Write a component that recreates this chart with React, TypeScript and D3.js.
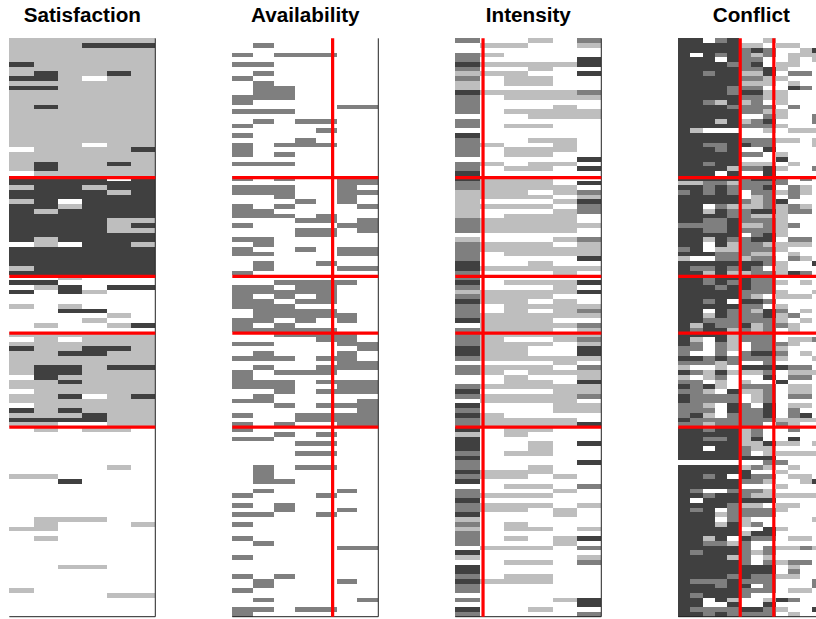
import React from "react";
import * as d3 from "d3";

const titles = ["Satisfaction", "Availability", "Intensity", "Conflict"];

// cell levels: 0 white, 1 light, 2 gray, 3 dark
const levelColors = ["#ffffff", "#bebebe", "#7f7f7f", "#404040"];

const satisfaction = [
"111111","111333","111111","111111","111111","311111","111111","131131","331011","111111",
"331111","111111","111111","111111","131111","111111","111111","111111","111111","111111",
"111111","111111","111011","011113","111111","111111","131131","131111","011111","333303",
"333333","133133","333313","333333","130333","331333","313333","333333","333311","333313",
"333311","333333","313333","010331","333333","333333","333333","333333","133333","333333",
"001000","330000","013033","303100","000000","000000","101000","003300","000010","000100",
"010013","000000","111111","010111","111111","311331","113311","111111","111111","133133",
"133111","031111","113111","111111","011111","113013","111111","011111","313111","111311",
"333311","110011","010110","000000","000000","000000","000000","000000","000000","000000",
"000010","000000","110000","003000","000000","000000","000000","000000","000000","000000",
"000000","011100","010001","110000","000000","010000","000000","000000","000000","000000",
"000000","001100","000000","000000","000000","000000","100000","000011","000000","000000",
"000000","000000",
];

const availability = [
"0000000","0200000","0000000","2022200","0000000","2200000","0000000","0200000","2000000","0200000",
"0220000","0220000","2220000","2000000","0000022","2220000","0000000","0202200","2000000","0000200",
"2000000","0002000","2022200","2000000","2020000","0000000","2220000","0000000","0000000","2020022",
"0000022","2220020","2220022","0020020","0002020","2020002","2200000","2220200","0002202","2000022",
"0002202","0002200","2200000","0200000","2002022","2200022","0000000","0200200","0200022","2000000",
"0000000","0022220","2202200","2222200","2020200","2202200","2220000","0222200","0222220","2202020",
"2020000","2222200","0022220","0000220","2200022","0000002","0200020","2220220","0000022","0200222",
"2022200","2000000","2220222","2220022","0020222","0200000","2200002","0020222","0000002","2002222",
"0002222","2020022","2000000","0020200","2200000","0002200","0000000","0002200","0000000","0000000",
"0202200","0200000","0200000","0220000","0000000","0200020","2000200","0000000","2020000","0020020",
"2200200","0000000","2000000","0000000","0000000","2000000","0200000","0000022","0000000","2000000",
"0000000","0000000","0000000","2020000","0200020","0200000","2000000","0000000","0200002","0000000",
"2202200","2000000",
];

const intensity = [
"200102","011001","000000","210000","200003","311113","200100","111003","201100","101100",
"100000","311112","201111","200000","200010","201111","000111","200000","201100","000000",
"300000","200110","210010","201110","201100","000003","210110","201103","300000","311100",
"211103","211110","111012","111101","100013","111102","100012","101110","211110","211111",
"211110","000000","100012","211101","211111","201111","200003","300100","311111","200010",
"200000","301113","200010","111113","211100","311010","201111","201012","211111","311100",
"011112","211101","211111","210012","211101","311003","311003","211111","000010","211102",
"210111","001001","001103","211111","300011","211112","011110","300011","200011","310000",
"211110","211113","301100","101000","300000","300103","300100","201100","300000","200003",
"200100","311100","211010","300000","001102","200010","211100","300000","211101","211010",
"300010","100000","201000","101101","200000","201013","200010","011102","300000","100001",
"001102","300000","300000","201100","311100","200000","200000","000000","200013","000003",
"300100","200002",
];

const conflict = [
"330230010000","333331101100","333332320013","303232120111","333032200101","333322301100","333332231000","332331130220","333332211000","333331110100",
"333322200320","333323311000","333332211000","332131201000","333322220200","333332211000","333330021002","333131230002","333332221000","310000010111",
"333330000000","333332221101","332233220001","333230030000","333332201000","333330003000","332331110100","333312231002","333030030000","333332332020",
"112212222000","332322230210","232320221210","333330120200","333332123000","330211121210","331322331220","333322111000","332232221000","222231121200",
"332232221000","333330231000","331322330220","330312211110","230112221000","333222110100","100221220210","333333321003","322323201000","331311221320",
"332333220000","332323221010","333233220000","333332221001","333332101110","332303320000","333332201000","330322132010","331322231200","332222221010",
"313223122100","323312120100","333312220000","310312220112","320210222100","220210221000","200202332010","332322221001","222120020000","100103333220",
"321311120111","101200030220","220101003000","323102220110","221031120110","322220120220","322220120000","221032030110","222032230200","231022230230",
"322222221111","221222202100","332331200200","333331200000","332231300300","333331131101","330332110000","333332011111","333333330000","000000022000",
"333331210100","333333001000","332303220110","333332210013","333330001000","320022210000","332332111111","303333330000","333321101100","323022221000",
"333122220000","333021000001","333131200000","333330031000","333331330000","331303220110","332212000000","333332021121","323332120000","333312010000",
"333332021220","333333330100","333333330200","333323221100","322232220002","333233020002","333332220110","323332000000","330310013200","330030030000",
"322223321003","332322220100",
];

const matrices = [satisfaction, availability, intensity, conflict];

// block boundaries, in row units (all panels) and column units (per panel)
const rowBreaks = [29.4, 50.2, 62.2, 82];
const satisfactionColBreaks: number[] = [];
const availabilityColBreaks = [4.81];
const intensityColBreaks = [1.14];
const conflictColBreaks = [5.09, 7.85];
const colBreaks = [satisfactionColBreaks, availabilityColBreaks, intensityColBreaks, conflictColBreaks];

const W = 816;
const H = 619;
const panelTop = 38.3;
const panelBottom = 616.7;
const panelWidth = 146;
const panelX = d3.scaleLinear().domain([0, 1]).range([9.3, 232.3]);

function Panel({ index }: { index: number }) {
  const rows = matrices[index];
  const nRows = rows.length;
  const nCols = rows[0].length;
  const x0 = panelX(index);
  const x = d3.scaleLinear().domain([0, nCols]).range([x0, x0 + panelWidth]);
  const y = d3.scaleLinear().domain([0, nRows]).range([panelTop, panelBottom]);
  const cells: React.ReactNode[] = [];
  rows.forEach((row, r) => {
    Array.from(row).forEach((ch, c) => {
      const level = +ch;
      if (level === 0) return;
      cells.push(
        <rect
          key={`${r}-${c}`}
          x={x(c)}
          y={y(r)}
          width={x(c + 1) - x(c)}
          height={y(r + 1) - y(r)}
          fill={levelColors[level]}
          shapeRendering="crispEdges"
        />
      );
    });
  });
  return (
    <g>
      <text
        x={x0 + panelWidth / 2}
        y={21.5}
        textAnchor="middle"
        fontFamily="'Liberation Sans', Arial, sans-serif"
        fontWeight="bold"
        fontSize={20.7}
        fill="#000"
      >
        {titles[index]}
      </text>
      {cells}
      <path
        d={`M${x(nCols)},${panelTop}V${panelBottom}H${x0}`}
        fill="none"
        stroke="#222"
        strokeWidth={1}
      />
      {rowBreaks.map((b) => (
        <line key={`h${b}`} x1={x0} x2={x(nCols)} y1={y(b)} y2={y(b)} stroke="#ff0000" strokeWidth={3.2} />
      ))}
      {colBreaks[index].map((b) => (
        <line key={`v${b}`} x1={x(b)} x2={x(b)} y1={panelTop} y2={panelBottom} stroke="#ff0000" strokeWidth={3.2} />
      ))}
    </g>
  );
}

export default function App() {
  return (
    <svg
      width={W}
      height={H}
      viewBox={`0 0 ${W} ${H}`}
      style={{ position: "fixed", left: 0, top: 0, background: "#fff" }}
    >
      {titles.map((_, i) => (
        <Panel key={i} index={i} />
      ))}
    </svg>
  );
}
